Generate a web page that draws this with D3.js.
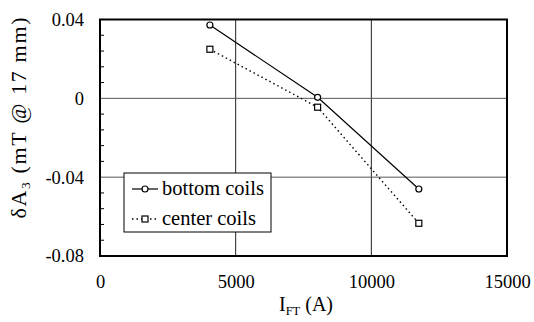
<!DOCTYPE html>
<html><head><meta charset="utf-8">
<script src="https://cdn.jsdelivr.net/npm/d3@7"></script>
<style>body{margin:0;background:#fff}svg{display:block}</style>
</head><body><svg id="c" width="534" height="322" font-family="Liberation Serif, DejaVu Serif, serif"></svg>
<script>
const currents = [4050, 8020, 11750];
const bottomCoils = [0.0372, 0.0005, -0.0460];
const centerCoils = [0.0249, -0.0045, -0.0634];
const xTicks = [0, 5000, 10000, 15000];
const yTicks = [0.04, 0, -0.04, -0.08];
const yTickLabels = ["0.04", "0", "-0.04", "-0.08"];

const FONT = "'Liberation Serif', 'DejaVu Serif', serif";
const svg = d3.select("#c");
const L = 100, R = 507, T = 19.5, B = 256;
const x = d3.scaleLinear().domain([0, 15000]).range([L, R]);
const y = d3.scaleLinear().domain([-0.08, 0.04]).range([B, T]);

// grid
svg.append("g").selectAll("line").data([5000, 10000]).join("line")
  .attr("x1", d => x(d)).attr("x2", d => x(d)).attr("y1", T).attr("y2", B)
  .attr("stroke", "#222").attr("stroke-width", 1);
svg.append("g").selectAll("line").data([0, -0.04]).join("line")
  .attr("x1", L).attr("x2", R).attr("y1", d => y(d)).attr("y2", d => y(d))
  .attr("stroke", "#555").attr("stroke-width", 1);

// minor y ticks (inside)
const minor = d3.range(-0.08, 0.0401, 0.008).filter(v => !yTicks.some(t => Math.abs(t - v) < 1e-6));
svg.append("g").selectAll("line").data(minor).join("line")
  .attr("x1", L).attr("x2", L + 4).attr("y1", d => y(d)).attr("y2", d => y(d))
  .attr("stroke", "#000").attr("stroke-width", 1);

// frame
svg.append("rect").attr("x", L).attr("y", T).attr("width", R - L).attr("height", B - T)
  .attr("fill", "none").attr("stroke", "#000").attr("stroke-width", 2);

// axes labels
const yAxis = d3.axisLeft(y).tickValues(yTicks).tickFormat((d, i) => yTickLabels[i]).tickSize(0).tickPadding(16);
const ga = svg.append("g").attr("transform", `translate(${L},0)`).call(yAxis)
  .attr("font-family", FONT).attr("font-size", 18);
ga.select(".domain").remove();
ga.selectAll("text").attr("font-family", FONT).style("font-family", FONT).style("font-size", "18.5px").attr("fill", "#000");

const xAxis = d3.axisBottom(x).tickValues(xTicks).tickFormat(d3.format("d")).tickSize(0).tickPadding(19);
const gx = svg.append("g").attr("transform", `translate(0,${B})`).call(xAxis)
  .attr("font-family", FONT).attr("font-size", 18);
gx.select(".domain").remove();
gx.selectAll("text").attr("font-family", FONT).style("font-family", FONT).style("font-size", "18.5px").attr("fill", "#000");

// axis titles
const yl = svg.append("text").attr("transform", "translate(26,118) rotate(-90)")
  .attr("text-anchor", "middle").attr("font-family", FONT).style("font-family", FONT).style("font-size", "22px")
  .attr("textLength", 201).attr("lengthAdjust", "spacing");
yl.append("tspan").text("δA");
yl.append("tspan").text("3").attr("dy", 4).style("font-size", "13.5px");
yl.append("tspan").text(" (mT @ 17 mm)").attr("dy", -4);

const xl = svg.append("text").attr("x", 306).attr("y", 311).attr("text-anchor", "middle")
  .attr("font-family", FONT).style("font-family", FONT).style("font-size", "20px");
xl.append("tspan").text("I");
xl.append("tspan").text("FT").attr("dy", 4).style("font-size", "12.5px");
xl.append("tspan").text(" (A)").attr("dy", -4);

// series
const line = d3.line().x(d => x(d[0])).y(d => y(d[1]));
const bData = currents.map((c, i) => [c, bottomCoils[i]]);
const cData = currents.map((c, i) => [c, centerCoils[i]]);
svg.append("path").datum(bData).attr("d", line).attr("fill", "none").attr("stroke", "#000").attr("stroke-width", 1.2);
svg.append("path").datum(cData).attr("d", line).attr("fill", "none").attr("stroke", "#000").attr("stroke-width", 1.4).attr("stroke-dasharray", "1.5,3");
svg.append("g").selectAll("circle").data(bData).join("circle")
  .attr("cx", d => x(d[0])).attr("cy", d => y(d[1])).attr("r", 3)
  .attr("fill", "#fff").attr("stroke", "#000").attr("stroke-width", 1.2);
svg.append("g").selectAll("rect").data(cData).join("rect")
  .attr("x", d => x(d[0]) - 3).attr("y", d => y(d[1]) - 3).attr("width", 6).attr("height", 6)
  .attr("fill", "#fff").attr("stroke", "#000").attr("stroke-width", 1.2);

// legend
const lg = svg.append("g");
lg.append("rect").attr("x", 124).attr("y", 173).attr("width", 147).attr("height", 59)
  .attr("fill", "#fff").attr("stroke", "#000").attr("stroke-width", 1);
lg.append("line").attr("x1", 132).attr("x2", 158).attr("y1", 189).attr("y2", 189).attr("stroke", "#000").attr("stroke-width", 1.2);
lg.append("circle").attr("cx", 145).attr("cy", 189).attr("r", 3).attr("fill", "#fff").attr("stroke", "#000").attr("stroke-width", 1.2);
lg.append("text").attr("x", 162).attr("y", 195).text("bottom coils")
  .attr("font-family", FONT).style("font-family", FONT).style("font-size", "20.5px");
lg.append("line").attr("x1", 132).attr("x2", 158).attr("y1", 219).attr("y2", 219).attr("stroke", "#000").attr("stroke-width", 1.4).attr("stroke-dasharray", "1.5,3");
lg.append("rect").attr("x", 142).attr("y", 216).attr("width", 6).attr("height", 6).attr("fill", "#fff").attr("stroke", "#000").attr("stroke-width", 1.2);
lg.append("text").attr("x", 162).attr("y", 225).text("center coils")
  .attr("font-family", FONT).style("font-family", FONT).style("font-size", "20.5px");
</script></body></html>
